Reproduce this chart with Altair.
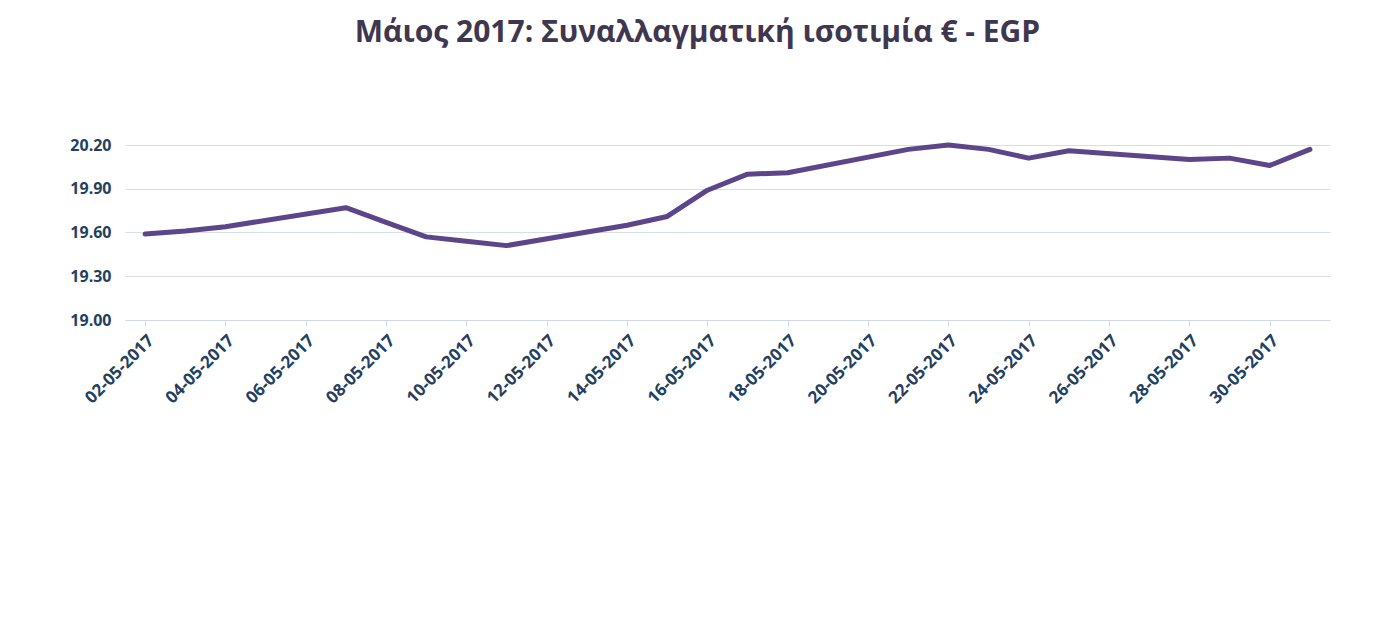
import altair as alt
import pandas as pd

# Business days (CBE, Sun-Thu) in May 2017
dates = ["2017/05/02", "2017/05/03", "2017/05/04", "2017/05/07", "2017/05/08",
         "2017/05/09", "2017/05/10", "2017/05/11", "2017/05/14", "2017/05/15",
         "2017/05/16", "2017/05/17", "2017/05/18", "2017/05/21", "2017/05/22",
         "2017/05/23", "2017/05/24", "2017/05/25", "2017/05/28", "2017/05/29",
         "2017/05/30", "2017/05/31"]
rates = [19.59, 19.61, 19.64, 19.77, 19.67,
         19.57, 19.54, 19.51, 19.65, 19.71,
         19.89, 20.00, 20.01, 20.17, 20.20,
         20.17, 20.11, 20.16, 20.10, 20.11,
         20.06, 20.17]
y_ticks = [19.00, 19.30, 19.60, 19.90, 20.20]
label_days = list(range(2, 31, 2))

df = pd.DataFrame({"date": dates, "rate": rates})

text_color = "#243f60"

line = alt.Chart(df).mark_line(color="#5c4589", strokeWidth=5, strokeJoin="round", strokeCap="round").encode(
    x=alt.X("date:T",
            scale=alt.Scale(domain=[{"year": 2017, "month": 5, "date": 1, "hours": 12},
                                    {"year": 2017, "month": 5, "date": 31, "hours": 12}]),
            axis=alt.Axis(title=None, format="%d-%m-%Y",
                          values=[{"year": 2017, "month": 5, "date": d} for d in label_days],
                          labelAngle=-45, labelAlign="right", labelBaseline="top",
                          labelFont="Open Sans", labelFontWeight="bold", labelFontSize=17,
                          labelColor=text_color, labelPadding=6,
                          grid=False, domainColor="#d0d8e6", tickColor="#d0d8e6", tickSize=6)),
    y=alt.Y("rate:Q",
            scale=alt.Scale(domain=[19.0, 20.2], zero=False, nice=False),
            axis=alt.Axis(title=None, values=y_ticks, format=".2f",
                          labelFont="Open Sans", labelFontWeight="bold", labelFontSize=16,
                          labelColor=text_color, labelPadding=14,
                          domain=False, ticks=False, gridColor="#d6deea", gridWidth=1)),
)

chart = line.properties(
    width=1205,
    height=175,
    background="white",
    autosize=alt.AutoSizeParams(type="none"),
    padding={"left": 117, "top": 137, "right": 56, "bottom": 300},
    title=alt.TitleParams(
        "Μάιος 2017: Συναλλαγματική ισοτιμία € - EGP",
        font="Open Sans", fontSize=30, fontWeight="bold", color="#3f3650",
        anchor="middle", offset=89, dx=-30,
    ),
).configure_view(stroke=None)

chart.save("out.html", embed_options={"renderer": "svg", "actions": False})
